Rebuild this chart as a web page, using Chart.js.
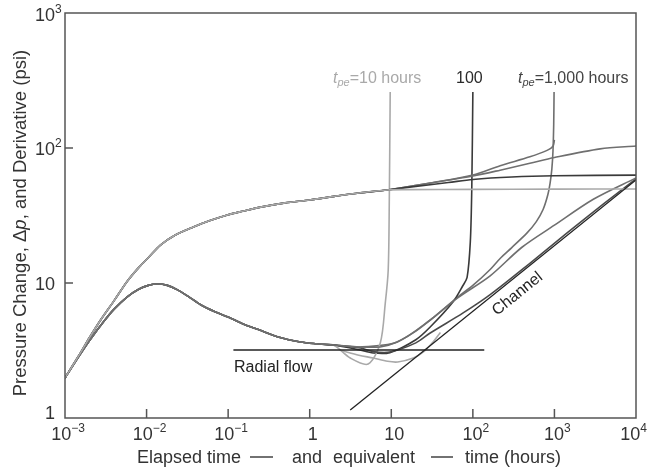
<!DOCTYPE html>
<html>
<head>
<meta charset="utf-8">
<script src="https://cdn.jsdelivr.net/npm/chart.js@4"></script>
<style>
  body { margin: 0; background: #fff; }
  canvas { display: block; }
</style>
</head>
<body>
<canvas id="chart" width="648" height="475"></canvas>
<script>
// early-time response, all runs overlap here (hours, psi)
const earlyTimeP = [0.001, 0.0015, 0.002, 0.00272, 0.004, 0.0058, 0.008, 0.0105, 0.0148, 0.022, 0.0375, 0.06, 0.098, 0.15, 0.25, 0.5, 1, 2, 4, 8.9];
const earlyP     = [1.98, 2.95, 3.95, 5.3, 7.4, 10.3, 13.0, 15.4, 19.1, 22.5, 26.0, 29.0, 31.9, 34.0, 36.5, 39.2, 41.2, 43.8, 46.4, 48.9];
const earlyTimeD = [0.001, 0.0015, 0.002, 0.003, 0.004, 0.0058, 0.008, 0.0105, 0.0136, 0.018, 0.024, 0.033, 0.046, 0.07, 0.1, 0.15, 0.24, 0.4, 0.77, 1.2, 1.95];
const earlyD     = [1.98, 2.9, 3.75, 5.2, 6.4, 7.9, 9.0, 9.6, 9.83, 9.6, 8.9, 7.9, 6.9, 6.1, 5.6, 5.0, 4.5, 4.0, 3.66, 3.55, 3.47];

// late-time pressure change
const tp10Time = [15, 100, 1000, 10000];
const tp10P    = [49.2, 49.4, 49.6, 49.7];
const tp100Time = [20, 50, 100, 300, 1000, 10000];
const tp100P    = [52, 55.5, 58.5, 61, 62.3, 63];
const drawTime = [12.8, 30, 100, 216, 500, 1000, 3630, 10000];
const drawP    = [50.6, 55, 62, 68.5, 77, 85, 98.5, 103.5];
const tp1000Time = [12.8, 30, 100, 216, 500, 813, 960, 1000];
const tp1000P    = [50.6, 55, 63, 74, 86, 96, 103, 115];

// late-time derivatives
const drawDTime = [4.17, 7.3, 11.8, 20, 30, 64, 163, 400, 1000, 3000, 10000];
const drawD     = [3.36, 3.36, 3.66, 4.4, 5.3, 7.7, 11.3, 18.4, 26.8, 41.7, 60];
const lowDTime = [4.17, 6, 9.6, 20, 30, 76, 163, 500, 1430, 4000, 10000];
const lowD     = [3.3, 3.1, 3.08, 3.6, 4.26, 6.0, 8.2, 14, 23.5, 38.5, 59];
const tp10DTime = [3.14, 5.2, 7.33, 8.44, 9.17, 9.45, 9.7];
const tp10D     = [2.78, 2.51, 3.59, 7.1, 12.5, 40, 260];
const tp10D2Time = [2.5, 4, 6, 9, 12, 18.6, 25, 32.5, 40];
const tp10D2     = [3.15, 2.92, 2.78, 2.63, 2.6, 2.78, 3.1, 3.66, 4.3];
const tp100DTime = [4, 6, 9.6, 20, 30, 57, 75, 85, 93, 97, 100];
const tp100D     = [3.2, 3.03, 3.05, 3.8, 4.72, 7.23, 9.5, 11, 20, 50, 260];
const tp1000DTime = [4.17, 11.8, 30, 64, 100, 163, 216, 300, 462, 600, 726, 830, 885, 930, 960, 980, 990];
const tp1000D     = [3.36, 3.66, 5.32, 7.8, 9.6, 12.6, 15.2, 18.3, 23.5, 28.5, 35, 45, 55, 70, 95, 150, 260];

// reference lines
const channelTime = [3.14, 10000];
const channelP    = [1.146, 58];
const radialTime = [0.116, 138];
const radialP    = [3.19, 3.19];

const xTickValues = [1e-3, 1e-2, 1e-1, 1, 10, 100, 1000, 10000];
const xTickLabels = [['10', '\u22123'], ['10', '\u22122'], ['10', '\u22121'], ['1', ''], ['10', ''], ['10', '2'], ['10', '3'], ['10', '4']];
const yTickValues = [1, 10, 100, 1000];
const yTickLabels = [['1', ''], ['10', ''], ['10', '2'], ['10', '3']];

const FONT = '"Liberation Sans", Arial, sans-serif';
const LIGHT = '#a9a9a9', MID = '#6f6f6f', DARK = '#3a3a3a', INK = '#222';

function pts(ts, ps) { return ts.map((t, i) => ({ x: t, y: ps[i] })); }
function line(ts, ps, color, extra) {
    return Object.assign({ data: pts(ts, ps), borderColor: color, borderWidth: 1.6, showLine: true, pointRadius: 0, tension: 0.3, fill: false }, extra || {});
}

function rich(ctx, x, y, parts) {
    let cx = x;
    parts.forEach(p => {
        ctx.font = (p.italic ? 'italic ' : '') + p.size + 'px ' + FONT;
        ctx.fillText(p.t, cx, y + (p.dy || 0));
        cx += ctx.measureText(p.t).width;
    });
    return cx - x;
}
function richWidth(ctx, parts) {
    let w = 0;
    parts.forEach(p => { ctx.font = (p.italic ? 'italic ' : '') + p.size + 'px ' + FONT; w += ctx.measureText(p.t).width; });
    return w;
}

const decorations = {
    id: 'decorations',
    afterDraw(chart) {
        const { ctx, chartArea: a, scales: { x, y } } = chart;
        ctx.save();
        // frame + inward ticks
        ctx.strokeStyle = '#555';
        ctx.lineWidth = 1.5;
        ctx.strokeRect(a.left, a.top, a.right - a.left, a.bottom - a.top);
        ctx.beginPath();
        xTickValues.slice(1, -1).forEach(v => {
            const px = x.getPixelForValue(v);
            ctx.moveTo(px, a.bottom); ctx.lineTo(px, a.bottom - 9);
        });
        yTickValues.slice(1, -1).forEach(v => {
            const py = y.getPixelForValue(v);
            ctx.moveTo(a.left, py); ctx.lineTo(a.left + 8, py);
        });
        ctx.stroke();

        // tick labels
        ctx.fillStyle = '#333';
        ctx.textBaseline = 'alphabetic';
        ctx.textAlign = 'left';
        xTickValues.forEach((v, i) => {
            const parts = [{ t: xTickLabels[i][0], size: 18 }, { t: xTickLabels[i][1], size: 12, dy: -8 }];
            const w = richWidth(ctx, parts);
            const left = Math.min(x.getPixelForValue(v) + 3 - w / 2, 647 - w);
            rich(ctx, left, 440, parts);
        });
        yTickValues.forEach((v, i) => {
            const py = y.getPixelForValue(v);
            ctx.font = '18px ' + FONT;
            const wm = ctx.measureText(yTickLabels[i][0]).width;
            let base = py + 6.5;
            if (i === 0) base = py + 0.5;
            if (i === yTickValues.length - 1) base = py + 8;
            rich(ctx, 55 - wm, base, [{ t: yTickLabels[i][0], size: 18 }, { t: yTickLabels[i][1], size: 12, dy: -8 }]);
        });

        // axis titles
        ctx.fillStyle = '#333';
        const xt = [['Elapsed time', 137], ['and', 292], ['equivalent', 333], ['time (hours)', 465]];
        ctx.font = '18px ' + FONT;
        xt.forEach(s => ctx.fillText(s[0], s[1], 463));
        ctx.strokeStyle = '#444';
        ctx.lineWidth = 1.3;
        ctx.beginPath();
        ctx.moveTo(250, 457); ctx.lineTo(273, 457);
        ctx.moveTo(431, 457); ctx.lineTo(453, 457);
        ctx.stroke();

        const yt = [{ t: 'Pressure Change, \u0394', size: 18.5 }, { t: 'p', size: 18.5, italic: true }, { t: ', and Derivative (psi)', size: 18.5 }];
        ctx.save();
        ctx.translate(26, 223);
        ctx.rotate(-Math.PI / 2);
        rich(ctx, -richWidth(ctx, yt) / 2, 0, yt);
        ctx.restore();

        // annotations
        ctx.fillStyle = LIGHT;
        rich(ctx, 333, 83, [{ t: 't', size: 16, italic: true }, { t: 'pe', size: 11, italic: true, dy: 3 }, { t: '=10 hours', size: 16 }]);
        ctx.fillStyle = '#2a2a2a';
        rich(ctx, 456, 83, [{ t: '100', size: 16 }]);
        ctx.fillStyle = '#444';
        rich(ctx, 518, 83, [{ t: 't', size: 16, italic: true }, { t: 'pe', size: 11, italic: true, dy: 3 }, { t: '=1,000 hours', size: 16 }]);

        ctx.fillStyle = INK;
        ctx.font = '16px ' + FONT;
        ctx.fillText('Radial flow', 234, 372);
        ctx.save();
        ctx.translate(497, 316);
        ctx.rotate(-0.677);
        ctx.fillText('Channel', 0, 0);
        ctx.restore();
        ctx.restore();
    }
};

const ctx = document.getElementById('chart').getContext('2d');
new Chart(ctx, {
    type: 'scatter',
    data: {
        datasets: [
            line(channelTime, channelP, INK, { tension: 0, borderWidth: 1.3 }),
            line(radialTime, radialP, INK, { tension: 0, borderWidth: 1.3 }),
            line(earlyTimeP.concat(tp10Time), earlyP.concat(tp10P), LIGHT),
            line(earlyTimeP.concat(tp100Time), earlyP.concat(tp100P), DARK),
            line(earlyTimeP.concat(drawTime), earlyP.concat(drawP), MID),
            line(earlyTimeP.concat(tp1000Time), earlyP.concat(tp1000P), MID),
            line(earlyTimeD.concat(drawDTime), earlyD.concat(drawD), MID),
            line(earlyTimeD.concat(lowDTime), earlyD.concat(lowD), '#4a4a4a'),
            line(earlyTimeD.concat(tp10DTime), earlyD.concat(tp10D), LIGHT),
            line(tp10D2Time, tp10D2, LIGHT),
            line(earlyTimeD.concat(tp100DTime), earlyD.concat(tp100D), DARK),
            line(earlyTimeD.concat(tp1000DTime), earlyD.concat(tp1000D), MID)
        ]
    },
    options: {
        responsive: false,
        animation: false,
        layout: { padding: { top: 13, right: 12, left: 0, bottom: 0 } },
        plugins: { legend: { display: false }, tooltip: { enabled: false } },
        scales: {
            x: {
                type: 'logarithmic', min: 1e-3, max: 1e4,
                ticks: { display: false }, grid: { display: false }, border: { display: false },
                afterFit: s => { s.height = 57; }
            },
            y: {
                type: 'logarithmic', min: 1, max: 1000,
                ticks: { display: false }, grid: { display: false }, border: { display: false },
                afterFit: s => { s.width = 65; }
            }
        }
    },
    plugins: [decorations]
});
</script>
</body>
</html>
